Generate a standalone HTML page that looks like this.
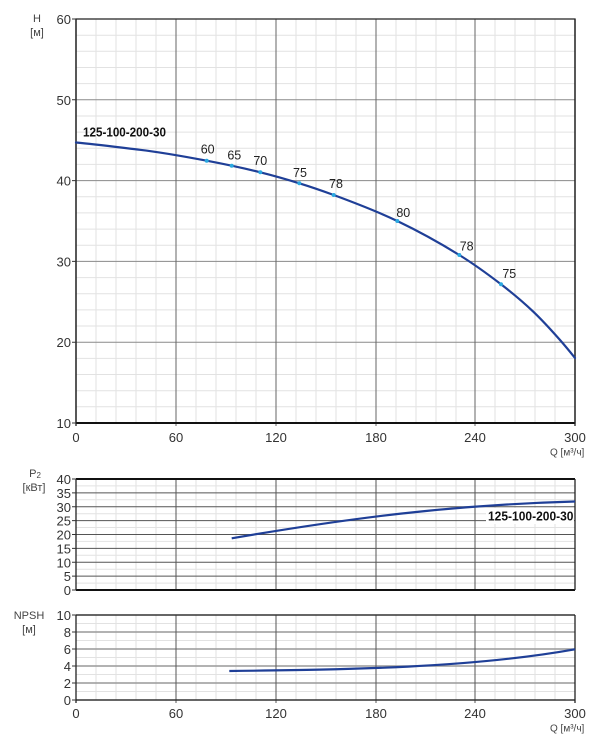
<!DOCTYPE html>
<html><head><meta charset="utf-8"><style>
html,body{margin:0;padding:0;background:#fff;}
svg{display:block;}
text{font-family:"Liberation Sans",Arial,sans-serif;}
</style></head><body>
<svg width="602" height="750" viewBox="0 0 602 750" xmlns="http://www.w3.org/2000/svg">
<rect width="602" height="750" fill="#fff"/>
<!-- ===== TOP CHART ===== -->
<g stroke="#e2e2e2" stroke-width="1">
<path d="M96 19V423M116 19V423M136 19V423M156 19V423M196 19V423M216 19V423M236 19V423M256 19V423M296 19V423M316 19V423M336 19V423M356 19V423M396 19V423M416 19V423M436 19V423M456 19V423M495 19V423M515 19V423M535 19V423M555 19V423"/>
<path d="M76 35.2H575M76 51.3H575M76 67.5H575M76 83.6H575M76 116H575M76 132.1H575M76 148.3H575M76 164.4H575M76 196.8H575M76 212.9H575M76 229.1H575M76 245.2H575M76 277.6H575M76 293.7H575M76 309.9H575M76 326H575M76 358.4H575M76 374.5H575M76 390.7H575M76 406.8H575"/>
</g>
<g stroke="#8a8a8a" stroke-width="1">
<path d="M76 99.8H575M76 180.6H575M76 261.4H575M76 342.2H575"/>
</g>
<g stroke="#666" stroke-width="1">
<path d="M176 19V426M276 19V426M376 19V426M475 19V426"/>
</g>
<path d="M76 19H575V423H76Z" fill="none" stroke="#222" stroke-width="1.3"/>
<path d="M76 423H575" stroke="#111" stroke-width="2"/>
<path d="M76 19V426M575 19V426" stroke="#222" stroke-width="1.3"/>
<g stroke="#333" stroke-width="1"><path d="M72 19H76M72 99.8H76M72 180.6H76M72 261.4H76M72 342.2H76M72 423H76"/></g>
<g font-size="13" fill="#333" text-anchor="end">
<text x="71" y="24">60</text><text x="71" y="104.8">50</text><text x="71" y="185.6">40</text><text x="71" y="266.4">30</text><text x="71" y="347.2">20</text><text x="71" y="428">10</text>
</g>
<g font-size="13" fill="#333" text-anchor="middle">
<text x="76" y="442">0</text><text x="176" y="442">60</text><text x="276" y="442">120</text><text x="376" y="442">180</text><text x="475" y="442">240</text><text x="575" y="442">300</text>
</g>
<g font-size="11" fill="#444" text-anchor="middle">
<text x="37" y="22">H</text><text x="37" y="36">[м]</text>
</g>
<text x="550" y="455.5" font-size="10" fill="#444">Q [м³/ч]</text>
<text x="83" y="136.5" font-size="12.5" font-weight="bold" fill="#111" textLength="83" lengthAdjust="spacingAndGlyphs">125-100-200-30</text>
<path d="M76 142.5C97.3 144.4 118.7 147.3 140 149.8C162.2 152.4 184.5 156.5 206.7 160.7C224.6 164.1 242.4 167.8 260.3 172.3C273.3 175.55 286.3 179.27 299.3 183.3C310.8 186.85 322.2 190.76 333.7 195C354.9 202.84 376.1 210.82 397.3 221C418 230.92 438.6 242.19 459.3 255C473.2 263.62 487.1 273.6 501 284.3C511.8 292.59 522.5 301.47 533.3 311.7C542.2 320.16 551.1 329.94 560 340C565 345.65 570 351.75 575 358" fill="none" stroke="#1f3f97" stroke-width="2.2" stroke-linecap="round"/>
<g fill="#2aa8e0">
<circle cx="206.7" cy="160.7" r="2"/><circle cx="231.7" cy="165.7" r="2"/><circle cx="260.3" cy="172.3" r="2"/><circle cx="299.3" cy="183.3" r="2"/><circle cx="333.7" cy="195" r="2"/><circle cx="397.3" cy="221" r="2"/><circle cx="459.3" cy="255" r="2"/><circle cx="501" cy="284.3" r="2"/>
</g>
<g font-size="12.5" fill="#222" text-anchor="middle">
<text x="207.7" y="153.5">60</text><text x="234.3" y="159.5">65</text><text x="260.3" y="165.2">70</text><text x="300" y="176.8">75</text><text x="336" y="187.8">78</text><text x="403.3" y="217.2">80</text><text x="466.7" y="250.5">78</text><text x="509.3" y="277.8">75</text>
</g>
<!-- ===== P2 CHART ===== -->
<g stroke="#e2e2e2" stroke-width="1">
<path d="M96 479V590M116 479V590M136 479V590M156 479V590M196 479V590M216 479V590M236 479V590M256 479V590M296 479V590M316 479V590M336 479V590M356 479V590M396 479V590M416 479V590M436 479V590M456 479V590M495 479V590M515 479V590M535 479V590M555 479V590"/>
<path d="M76 485.9H575M76 499.8H575M76 513.7H575M76 527.5H575M76 541.4H575M76 555.3H575M76 569.2H575M76 583.1H575"/>
</g>
<g stroke="#555" stroke-width="1">
<path d="M76 492.9H575M76 506.8H575M76 520.6H575M76 534.5H575M76 548.4H575M76 562.3H575M76 576.1H575"/>
<path d="M176 479V590M276 479V590M376 479V590M475 479V590"/>
</g>
<path d="M76 479H575M76 590H575" stroke="#111" stroke-width="2"/>
<path d="M76 479V590M575 479V590" stroke="#222" stroke-width="1.3"/>
<g stroke="#333" stroke-width="1"><path d="M72 479H76M72 492.9H76M72 506.8H76M72 520.6H76M72 534.5H76M72 548.4H76M72 562.3H76M72 576.1H76M72 590H76"/></g>
<g font-size="13" fill="#333" text-anchor="end">
<text x="71" y="484">40</text><text x="71" y="497.9">35</text><text x="71" y="511.8">30</text><text x="71" y="525.6">25</text><text x="71" y="539.5">20</text><text x="71" y="553.4">15</text><text x="71" y="567.3">10</text><text x="71" y="581.1">5</text><text x="71" y="595">0</text>
</g>
<g font-size="11" fill="#444" text-anchor="middle">
<text x="35" y="477">P<tspan font-size="8" dy="1">2</tspan></text><text x="34" y="491">[кВт]</text>
</g>
<path d="M231.7 538.3C350 518 450 505 575 501.5" fill="none" stroke="#1f3f97" stroke-width="2.2"/>
<rect x="486" y="508" width="88" height="16" fill="#fff"/>
<text x="488" y="520.5" font-size="12.5" font-weight="bold" fill="#111" textLength="85.5" lengthAdjust="spacingAndGlyphs">125-100-200-30</text>
<!-- ===== NPSH CHART ===== -->
<g stroke="#e2e2e2" stroke-width="1">
<path d="M96 615V700M116 615V700M136 615V700M156 615V700M196 615V700M216 615V700M236 615V700M256 615V700M296 615V700M316 615V700M336 615V700M356 615V700M396 615V700M416 615V700M436 615V700M456 615V700M495 615V700M515 615V700M535 615V700M555 615V700"/>
<path d="M76 623.5H575M76 640.5H575M76 657.5H575M76 674.5H575M76 691.5H575"/>
</g>
<g stroke="#999" stroke-width="1.5">
<path d="M76 632H575M76 649H575M76 666H575M76 683H575"/>
</g>
<g stroke="#555" stroke-width="1">
<path d="M176 615V703M276 615V703M376 615V703M475 615V703"/>
</g>
<path d="M76 615H575M76 700H575" stroke="#333" stroke-width="1.6"/>
<path d="M76 615V703M575 615V703" stroke="#222" stroke-width="1.3"/>
<g stroke="#333" stroke-width="1"><path d="M72 615H76M72 632H76M72 649H76M72 666H76M72 683H76M72 700H76"/></g>
<g font-size="13" fill="#333" text-anchor="end">
<text x="71" y="620">10</text><text x="71" y="637">8</text><text x="71" y="654">6</text><text x="71" y="671">4</text><text x="71" y="688">2</text><text x="71" y="705">0</text>
</g>
<g font-size="13" fill="#333" text-anchor="middle">
<text x="76" y="718">0</text><text x="176" y="718">60</text><text x="276" y="718">120</text><text x="376" y="718">180</text><text x="475" y="718">240</text><text x="575" y="718">300</text>
</g>
<g font-size="11" fill="#444" text-anchor="middle">
<text x="29" y="619">NPSH</text><text x="29" y="633">[м]</text>
</g>
<text x="550" y="731.5" font-size="10" fill="#444">Q [м³/ч]</text>
<path d="M229.3 671C350 669.5 470 668 575 649.3" fill="none" stroke="#1f3f97" stroke-width="2.2"/>
</svg>
</body></html>
